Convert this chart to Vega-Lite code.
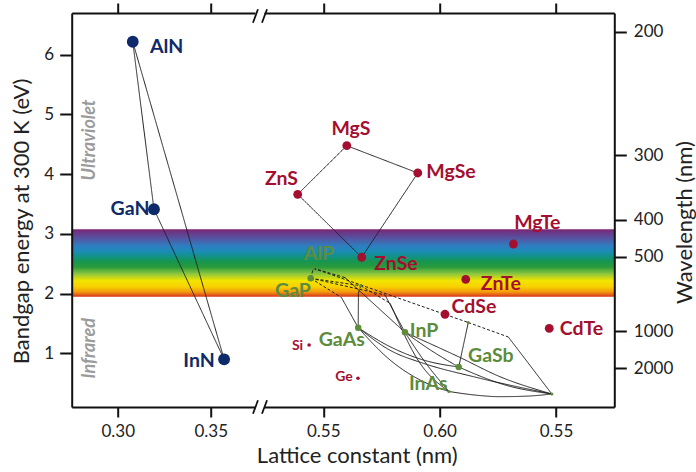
{
  "$schema": "https://vega.github.io/schema/vega-lite/v6.json",
  "width": 542.6,
  "height": 394,
  "autosize": {"type": "none"},
  "padding": {"left": 71.7, "top": 13, "right": 81.7, "bottom": 65},
  "background": "white",
  "view": {"stroke": null},
  "config": {
    "font": "Lato",
    "axis": {
      "grid": false,
      "domainColor": "#111111",
      "domainWidth": 2,
      "tickColor": "#111111",
      "tickWidth": 2,
      "labelColor": "#222222",
      "titleColor": "#222222",
      "labelFont": "Lato",
      "titleFont": "Lato",
      "labelFontSize": 17,
      "titleFontSize": 22,
      "titleFontWeight": "normal"
    }
  },
  "datasets": {
    "compounds": [
      {"name": "AlN", "fam": "nitride", "dot": "large", "a": 0.3081, "eg": 6.219},
      {"name": "GaN", "fam": "nitride", "dot": "large", "a": 0.3195, "eg": 3.412},
      {"name": "InN", "fam": "nitride", "dot": "large", "a": 0.3572, "eg": 0.899},
      {"name": "ZnS", "fam": "II-VI", "dot": "medium", "a": 0.5390, "eg": 3.663},
      {"name": "MgS", "fam": "II-VI", "dot": "medium", "a": 0.5601, "eg": 4.477},
      {"name": "MgSe", "fam": "II-VI", "dot": "medium", "a": 0.5906, "eg": 4.020},
      {"name": "ZnSe", "fam": "II-VI", "dot": "medium", "a": 0.5665, "eg": 2.608},
      {"name": "MgTe", "fam": "II-VI", "dot": "medium", "a": 0.6317, "eg": 2.830},
      {"name": "ZnTe", "fam": "II-VI", "dot": "medium", "a": 0.6112, "eg": 2.239},
      {"name": "CdSe", "fam": "II-VI", "dot": "medium", "a": 0.6023, "eg": 1.653},
      {"name": "CdTe", "fam": "II-VI", "dot": "medium", "a": 0.6471, "eg": 1.418},
      {"name": "Si", "fam": "IV", "dot": "small", "a": 0.5439, "eg": 1.139},
      {"name": "Ge", "fam": "IV", "dot": "small", "a": 0.5649, "eg": 0.581},
      {"name": "GaP", "fam": "III-V", "dot": "mid", "a": 0.5446, "eg": 2.256},
      {"name": "GaAs", "fam": "III-V", "dot": "mid", "a": 0.5650, "eg": 1.428},
      {"name": "InP", "fam": "III-V", "dot": "mid", "a": 0.5851, "eg": 1.351},
      {"name": "GaSb", "fam": "III-V", "dot": "mid", "a": 0.6082, "eg": 0.770},
      {"name": "AlP", "fam": "III-V", "dot": "tiny", "a": 0.5457, "eg": 2.423},
      {"name": "AlAs", "fam": "III-V", "dot": "tiny", "a": 0.5661, "eg": 2.132},
      {"name": "InAs", "fam": "III-V", "dot": "tiny", "a": 0.6040, "eg": 0.360},
      {"name": "AlSb", "fam": "III-V", "dot": "tiny", "a": 0.6123, "eg": 1.515},
      {"name": "InSb", "fam": "III-V", "dot": "tiny", "a": 0.6482, "eg": 0.318}
    ],
    "labels": [
      {"name": "AlN", "fam": "nitride", "tier": "main", "a": 0.32634, "eg": 6.030},
      {"name": "GaN", "fam": "nitride", "tier": "main", "a": 0.30661, "eg": 3.316},
      {"name": "InN", "fam": "nitride", "tier": "main", "a": 0.34371, "eg": 0.765},
      {"name": "ZnS", "fam": "II-VI", "tier": "main", "a": 0.53204, "eg": 3.819},
      {"name": "MgS", "fam": "II-VI", "tier": "main", "a": 0.56190, "eg": 4.656},
      {"name": "MgSe", "fam": "II-VI", "tier": "main", "a": 0.60488, "eg": 3.931},
      {"name": "ZnSe", "fam": "II-VI", "tier": "main", "a": 0.58124, "eg": 2.395},
      {"name": "MgTe", "fam": "II-VI", "tier": "main", "a": 0.64196, "eg": 3.082},
      {"name": "ZnTe", "fam": "II-VI", "tier": "main", "a": 0.62628, "eg": 2.060},
      {"name": "CdSe", "fam": "II-VI", "tier": "main", "a": 0.61476, "eg": 1.670},
      {"name": "CdTe", "fam": "II-VI", "tier": "main", "a": 0.66096, "eg": 1.306},
      {"name": "Si", "fam": "IV", "tier": "minor", "a": 0.53891, "eg": 1.055},
      {"name": "Ge", "fam": "IV", "tier": "minor", "a": 0.55890, "eg": 0.541},
      {"name": "AlP", "fam": "III-V", "tier": "main", "a": 0.54815, "eg": 2.562},
      {"name": "GaP", "fam": "III-V", "tier": "main", "a": 0.53698, "eg": 1.948},
      {"name": "GaAs", "fam": "III-V", "tier": "main", "a": 0.55791, "eg": 1.122},
      {"name": "InP", "fam": "III-V", "tier": "main", "a": 0.59327, "eg": 1.267},
      {"name": "GaSb", "fam": "III-V", "tier": "main", "a": 0.62198, "eg": 0.849},
      {"name": "InAs", "fam": "III-V", "tier": "main", "a": 0.59512, "eg": 0.385}
    ],
    "alloys": [
      {"s": "AlN-GaN", "k": "direct", "a": 0.3081, "eg": 6.219},
      {"s": "AlN-GaN", "k": "direct", "a": 0.3195, "eg": 3.412},
      {"s": "GaN-InN", "k": "direct", "a": 0.3195, "eg": 3.412},
      {"s": "GaN-InN", "k": "direct", "a": 0.3572, "eg": 0.899},
      {"s": "AlN-InN", "k": "direct", "a": 0.3081, "eg": 6.219},
      {"s": "AlN-InN", "k": "direct", "a": 0.3572, "eg": 0.899},
      {"s": "ZnS-MgS", "k": "direct", "a": 0.5390, "eg": 3.663},
      {"s": "ZnS-MgS", "k": "direct", "a": 0.5601, "eg": 4.477},
      {"s": "MgS-MgSe", "k": "direct", "a": 0.5601, "eg": 4.477},
      {"s": "MgS-MgSe", "k": "direct", "a": 0.5906, "eg": 4.020},
      {"s": "ZnSe-MgSe", "k": "direct", "a": 0.5665, "eg": 2.608},
      {"s": "ZnSe-MgSe", "k": "direct", "a": 0.5906, "eg": 4.020},
      {"s": "ZnS-ZnSe", "k": "direct", "a": 0.5390, "eg": 3.663},
      {"s": "ZnS-ZnSe", "k": "direct", "a": 0.5665, "eg": 2.608},
      {"s": "AlP-GaP", "k": "indirect", "a": 0.5446, "eg": 2.256},
      {"s": "AlP-GaP", "k": "indirect", "a": 0.5457, "eg": 2.423},
      {"s": "GaAsP-i", "k": "indirect", "a": 0.5446, "eg": 2.256},
      {"s": "GaAsP-i", "k": "indirect", "a": 0.5578, "eg": 1.934},
      {"s": "GaAsP-d", "k": "direct", "a": 0.5578, "eg": 1.934},
      {"s": "GaAsP-d", "k": "direct", "a": 0.5650, "eg": 1.428},
      {"s": "InGaP-i", "k": "indirect", "a": 0.5446, "eg": 2.256},
      {"s": "InGaP-i", "k": "indirect", "a": 0.5765, "eg": 1.976},
      {"s": "InGaP-d", "k": "direct", "a": 0.5765, "eg": 1.976},
      {"s": "InGaP-d", "k": "direct", "a": 0.5851, "eg": 1.351},
      {"s": "AlInP-i", "k": "indirect", "a": 0.5457, "eg": 2.423},
      {"s": "AlInP-i", "k": "indirect", "a": 0.5593, "eg": 2.269},
      {"s": "AlInP-d", "k": "direct", "a": 0.5593, "eg": 2.269},
      {"s": "AlInP-d", "k": "direct", "a": 0.5851, "eg": 1.351},
      {"s": "AlGaAs-d", "k": "direct", "a": 0.5650, "eg": 1.428},
      {"s": "AlGaAs-d", "k": "direct", "a": 0.5651, "eg": 2.005},
      {"s": "AlGaAs-i", "k": "indirect", "a": 0.5651, "eg": 2.005},
      {"s": "AlGaAs-i", "k": "indirect", "a": 0.5661, "eg": 2.132},
      {"s": "GaP-AlAs", "k": "indirect", "a": 0.5446, "eg": 2.256},
      {"s": "GaP-AlAs", "k": "indirect", "a": 0.5661, "eg": 2.132},
      {"s": "AlInAs-i", "k": "indirect", "a": 0.5661, "eg": 2.132},
      {"s": "AlInAs-i", "k": "indirect", "a": 0.5787, "eg": 1.837},
      {"s": "AlInAs-d", "k": "direct", "a": 0.5787, "eg": 1.837},
      {"s": "AlInAs-d", "k": "direct", "a": 0.5916, "eg": 0.832},
      {"s": "AlInAs-d", "k": "direct", "a": 0.6040, "eg": 0.360},
      {"s": "InAsP", "k": "direct", "a": 0.5851, "eg": 1.351},
      {"s": "InAsP", "k": "direct", "a": 0.5937, "eg": 0.854},
      {"s": "InAsP", "k": "direct", "a": 0.6040, "eg": 0.360},
      {"s": "InGaAs", "k": "direct", "a": 0.5650, "eg": 1.428},
      {"s": "InGaAs", "k": "direct", "a": 0.5787, "eg": 0.887},
      {"s": "InGaAs", "k": "direct", "a": 0.5916, "eg": 0.552},
      {"s": "InGaAs", "k": "direct", "a": 0.6040, "eg": 0.360},
      {"s": "GaAsSb", "k": "direct", "a": 0.5650, "eg": 1.428},
      {"s": "GaAsSb", "k": "direct", "a": 0.5787, "eg": 1.110},
      {"s": "GaAsSb", "k": "direct", "a": 0.5930, "eg": 0.887},
      {"s": "GaAsSb", "k": "direct", "a": 0.6082, "eg": 0.770},
      {"s": "GaAs-InSb", "k": "direct", "a": 0.5650, "eg": 1.428},
      {"s": "GaAs-InSb", "k": "direct", "a": 0.5787, "eg": 1.050},
      {"s": "GaAs-InSb", "k": "direct", "a": 0.5930, "eg": 0.832},
      {"s": "GaAs-InSb", "k": "direct", "a": 0.6145, "eg": 0.608},
      {"s": "GaAs-InSb", "k": "direct", "a": 0.6482, "eg": 0.318},
      {"s": "InPSb", "k": "direct", "a": 0.5851, "eg": 1.351},
      {"s": "InPSb", "k": "direct", "a": 0.6083, "eg": 0.938},
      {"s": "InPSb", "k": "direct", "a": 0.6259, "eg": 0.608},
      {"s": "InPSb", "k": "direct", "a": 0.6482, "eg": 0.318},
      {"s": "InP-GaSb", "k": "direct", "a": 0.5851, "eg": 1.351},
      {"s": "InP-GaSb", "k": "direct", "a": 0.5967, "eg": 1.038},
      {"s": "InP-GaSb", "k": "direct", "a": 0.6082, "eg": 0.770},
      {"s": "AlGaSb", "k": "direct", "a": 0.6082, "eg": 0.770},
      {"s": "AlGaSb", "k": "direct", "a": 0.6123, "eg": 1.515},
      {"s": "AlPSb", "k": "indirect", "a": 0.5457, "eg": 2.423},
      {"s": "AlPSb", "k": "indirect", "a": 0.6123, "eg": 1.515},
      {"s": "AlInSb-i", "k": "indirect", "a": 0.6123, "eg": 1.515},
      {"s": "AlInSb-i", "k": "indirect", "a": 0.6295, "eg": 1.273},
      {"s": "AlInSb-d", "k": "direct", "a": 0.6295, "eg": 1.273},
      {"s": "AlInSb-d", "k": "direct", "a": 0.6482, "eg": 0.318},
      {"s": "InGaSb", "k": "direct", "a": 0.6082, "eg": 0.770},
      {"s": "InGaSb", "k": "direct", "a": 0.6281, "eg": 0.469},
      {"s": "InGaSb", "k": "direct", "a": 0.6482, "eg": 0.318},
      {"s": "InAsSb", "k": "direct", "a": 0.6040, "eg": 0.360},
      {"s": "InAsSb", "k": "direct", "a": 0.6152, "eg": 0.300},
      {"s": "InAsSb", "k": "direct", "a": 0.6259, "eg": 0.273},
      {"s": "InAsSb", "k": "direct", "a": 0.6380, "eg": 0.283},
      {"s": "InAsSb", "k": "direct", "a": 0.6482, "eg": 0.318}
    ]
  },
  "layer": [
    {
      "data": {"values": [{"lo": 1.948, "hi": 3.077}]},
      "mark": {
        "type": "rect",
        "stroke": null,
        "fill": {
          "gradient": "linear",
          "x1": 0, "y1": 0, "x2": 0, "y2": 1,
          "stops": [
            {"offset": 0.0, "color": "#7d2570"},
            {"offset": 0.05, "color": "#6b3888"},
            {"offset": 0.15, "color": "#4f5aa6"},
            {"offset": 0.25, "color": "#2d7fc2"},
            {"offset": 0.33, "color": "#1c8cb5"},
            {"offset": 0.40, "color": "#12918a"},
            {"offset": 0.48, "color": "#17964f"},
            {"offset": 0.56, "color": "#2a9a3a"},
            {"offset": 0.66, "color": "#8cc63f"},
            {"offset": 0.76, "color": "#f0e500"},
            {"offset": 0.85, "color": "#f9d200"},
            {"offset": 0.93, "color": "#f29a10"},
            {"offset": 1.0, "color": "#d8321c"}
          ]
        }
      },
      "encoding": {
        "x": {
          "datum": 0.27527,
          "type": "quantitative",
          "scale": {"type": "linear", "domain": [0.27527, 0.37651, 0.5228, 0.67505], "range": [0, 188.3, 188.3, 542.6], "nice": false, "zero": false},
          "axis": {
            "orient": "bottom",
            "values": [0.30, 0.35, 0.55, 0.60, 0.65],
            "labelExpr": "datum.value > 0.64 ? '0.55' : format(datum.value, '.2f')",
            "title": "Lattice constant (nm)",
            "tickSize": 10,
            "labelPadding": 6,
            "titlePadding": 6,
            "titleX": 285,
            "zindex": 0
          }
        },
        "x2": {"datum": 0.67505},
        "y": {
          "field": "lo",
          "type": "quantitative",
          "scale": {"type": "linear", "domain": [0.1, 6.7], "nice": false, "zero": false},
          "axis": {
            "orient": "left",
            "values": [1, 2, 3, 4, 5, 6],
            "format": "d",
            "title": "Bandgap energy at 300 K (eV)",
            "tickSize": 12,
            "labelPadding": 6,
            "titlePadding": 10,
            "titleY": 208,
            "zindex": 1
          }
        },
        "y2": {"field": "hi"}
      }
    },
    {
      "data": {"values": [{}]},
      "mark": {"type": "rect", "fill": "white", "stroke": null},
      "encoding": {
        "x": {"datum": 0.37409, "type": "quantitative", "axis": null},
        "x2": {"datum": 0.52473},
        "y": {"datum": 6.65, "type": "quantitative", "axis": null},
        "y2": {"datum": 6.75}
      }
    },
    {
      "data": {"values": [{}]},
      "mark": {"type": "rect", "fill": "white", "stroke": null},
      "encoding": {
        "x": {"datum": 0.37409, "type": "quantitative", "axis": null},
        "x2": {"datum": 0.52473},
        "y": {"datum": 0.05, "type": "quantitative", "axis": null},
        "y2": {"datum": 0.15}
      }
    },
    {
      "data": {"values": [{}]},
      "mark": {"type": "rule", "color": "#111111", "strokeWidth": 1.8},
      "encoding": {
        "x": {"datum": 0.37274, "type": "quantitative", "axis": null},
        "x2": {"datum": 0.37543},
        "y": {"datum": 6.5375, "type": "quantitative", "axis": null},
        "y2": {"datum": 6.762}
      }
    },
    {
      "data": {"values": [{}]},
      "mark": {"type": "rule", "color": "#111111", "strokeWidth": 1.8},
      "encoding": {
        "x": {"datum": 0.52366, "type": "quantitative", "axis": null},
        "x2": {"datum": 0.52581},
        "y": {"datum": 6.5375, "type": "quantitative", "axis": null},
        "y2": {"datum": 6.762}
      }
    },
    {
      "data": {"values": [{}]},
      "mark": {"type": "rule", "color": "#111111", "strokeWidth": 1.8},
      "encoding": {
        "x": {"datum": 0.37274, "type": "quantitative", "axis": null},
        "x2": {"datum": 0.37543},
        "y": {"datum": -0.0122, "type": "quantitative", "axis": null},
        "y2": {"datum": 0.2122}
      }
    },
    {
      "data": {"values": [{}]},
      "mark": {"type": "rule", "color": "#111111", "strokeWidth": 1.8},
      "encoding": {
        "x": {"datum": 0.52366, "type": "quantitative", "axis": null},
        "x2": {"datum": 0.52581},
        "y": {"datum": -0.0122, "type": "quantitative", "axis": null},
        "y2": {"datum": 0.2122}
      }
    },
    {
      "data": {"name": "alloys"},
      "mark": {"type": "line", "color": "#202020", "strokeWidth": 1, "interpolate": "monotone"},
      "encoding": {
        "x": {"field": "a", "type": "quantitative", "axis": null},
        "y": {"field": "eg", "type": "quantitative", "axis": null},
        "detail": {"field": "s"},
        "strokeDash": {
          "field": "k",
          "type": "nominal",
          "scale": {"domain": ["direct", "indirect"], "range": [[1, 0], [3, 2]]},
          "legend": null
        }
      }
    },
    {
      "data": {"name": "compounds"},
      "mark": {"type": "circle", "opacity": 1},
      "encoding": {
        "x": {"field": "a", "type": "quantitative", "axis": null},
        "y": {"field": "eg", "type": "quantitative", "axis": null},
        "color": {
          "field": "fam",
          "type": "nominal",
          "scale": {"domain": ["nitride", "II-VI", "IV", "III-V"], "range": ["#0e2a6a", "#a50f2f", "#a50f2f", "#5d8c3c"]},
          "legend": null
        },
        "size": {
          "field": "dot",
          "type": "nominal",
          "scale": {"type": "ordinal", "domain": ["large", "medium", "small", "mid", "tiny"], "range": [140, 78, 13, 42, 10]},
          "legend": null
        }
      }
    },
    {
      "data": {"name": "labels"},
      "mark": {"type": "text", "fontWeight": "bold", "font": "Lato", "align": "center", "baseline": "alphabetic"},
      "encoding": {
        "x": {"field": "a", "type": "quantitative", "axis": null},
        "y": {"field": "eg", "type": "quantitative", "axis": null},
        "text": {"field": "name"},
        "color": {
          "field": "fam",
          "type": "nominal",
          "scale": {"domain": ["nitride", "II-VI", "IV", "III-V"], "range": ["#0e2a6a", "#a50f2f", "#a50f2f", "#5d8c3c"]},
          "legend": null
        },
        "size": {
          "field": "tier",
          "type": "nominal",
          "scale": {"type": "ordinal", "domain": ["main", "minor"], "range": [19.5, 14]},
          "legend": null
        }
      }
    },
    {
      "data": {"values": [
        {"region": "Ultraviolet", "a": 0.28511, "eg": 4.573},
        {"region": "Infrared", "a": 0.28511, "eg": 1.083}
      ]},
      "mark": {"type": "text", "angle": 270, "fontStyle": "italic", "fontWeight": "bold", "fontSize": 18, "color": "#9b9b9b", "align": "center", "baseline": "middle"},
      "encoding": {
        "x": {"field": "a", "type": "quantitative", "axis": null},
        "y": {"field": "eg", "type": "quantitative", "axis": null},
        "text": {"field": "region"}
      }
    },
    {
      "data": {"values": [{}]},
      "mark": {"type": "point", "opacity": 0},
      "encoding": {
        "x": {
          "datum": 0.5,
          "type": "quantitative",
          "axis": {"orient": "top", "values": [0.30, 0.35, 0.55, 0.60, 0.65], "labels": false, "title": null, "tickSize": 10, "zindex": 0}
        },
        "y": {
          "datum": 3,
          "type": "quantitative",
          "axis": {
            "orient": "right",
            "values": [6.387, 4.321, 3.233, 2.618, 1.373, 0.748],
            "labelExpr": "datum.value > 6 ? '200' : datum.value > 4 ? '300' : datum.value > 3 ? '400' : datum.value > 2 ? '500' : datum.value > 1 ? '1000' : '2000'",
            "title": "Wavelength (nm)",
            "titleAngle": 270,
            "titleBaseline": "top",
            "titleY": 209,
            "tickSize": 12,
            "labelPadding": 7,
            "titlePadding": 2,
            "zindex": 1
          }
        }
      }
    }
  ],
  "resolve": {
    "axis": {"x": "independent", "y": "independent"},
    "scale": {"size": "independent"}
  }
}
